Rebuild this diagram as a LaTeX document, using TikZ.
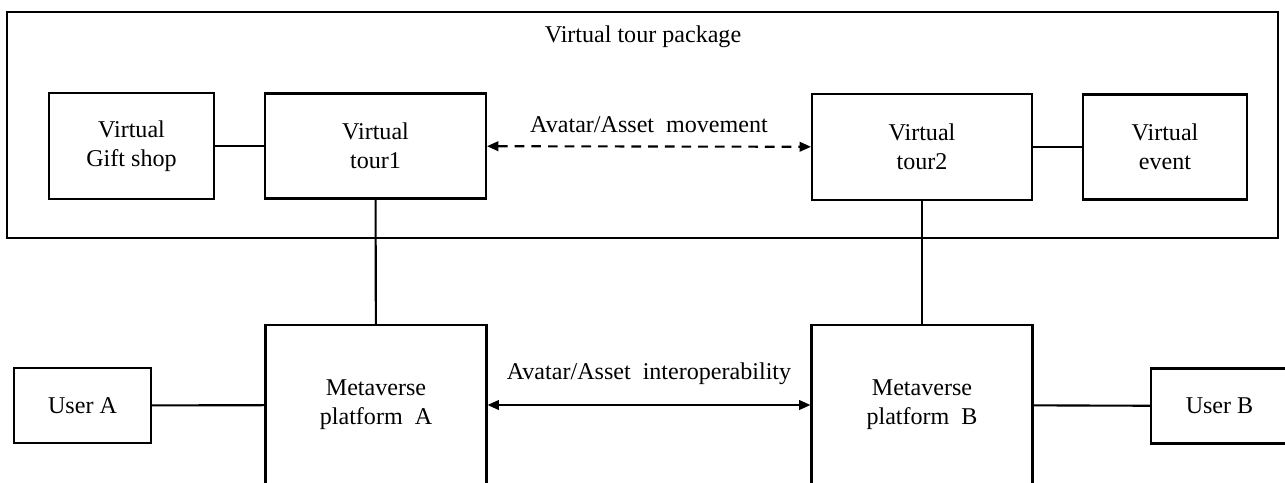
\documentclass[tikz,border=0pt]{standalone}
\usepackage{fontspec}
\setmainfont{Liberation Serif}
\usetikzlibrary{positioning,arrows.meta}
\tikzset{
  txt/.style      = {font=\fontsize{13.7}{16.4}\selectfont},
  block/.style    = {draw, line width=1.2pt, align=center, inner sep=0pt, txt},
  conn/.style     = {line width=1.2pt},
  >={Triangle[length=6.5pt,width=5.5pt]}
}

\begin{document}
\begin{tikzpicture}[x=0.02cm,y=-0.02cm]
    \useasboundingbox (0,0) rectangle (1285,483);
    \clip (0,0) rectangle (1285,483);

    % package frame
    \node[block, minimum width=25.42cm, minimum height=4.52cm] (pkg) at (642.5,125) {};
    \node[txt] (pkgtitle) at (643,37) {Virtual tour package};

    % virtual services
    \node[block, minimum width=3.3cm, minimum height=2.12cm] (giftshop) at (131.5,146) {Virtual\\Gift shop};
    \node[block, minimum width=4.42cm, minimum height=2.1cm] (tourA) at (375.5,146) {Virtual\\tour1};
    \node[block, minimum width=4.4cm, minimum height=2.12cm] (tourB) at (922,147) {Virtual\\tour2};
    \node[block, minimum width=3.28cm, minimum height=2.1cm] (event) at (1165,147) {Virtual\\event};

    % platforms and users
    \node[block, minimum width=4.42cm, minimum height=3.2cm] (platA) at (376,405) {Metaverse\\platform~~A};
    \node[block, minimum width=4.42cm, minimum height=3.2cm] (platB) at (922,405) {Metaverse\\platform~~B};
    \node[block, minimum width=2.74cm, minimum height=1.5cm] (userA) at (82.5,405.5) {User A};
    \node[block, minimum width=3cm, minimum height=1.5cm] (userB) at (1226,406) {User B\hspace*{0.26cm}};

    % connectors
    \draw[conn] (giftshop) -- (tourA);
    \draw[conn] (tourB) -- (event);
    \draw[conn] (tourA) -- (platA);
    \draw[conn] (tourB) -- (platB);
    \draw[conn] (userA) -- (platA);
    \draw[conn] (platB) -- (userB);

    \draw[conn,<->,dash pattern=on 5.5pt off 4pt] (tourA) -- (tourB)
      node[midway, above=4pt, txt] (movelabel) {Avatar/Asset~~movement};
    \draw[conn,<->] (platA) -- (platB)
      node[midway, above=7.5pt, txt] (interlabel) {Avatar/Asset~~interoperability};
\end{tikzpicture}
\end{document}
